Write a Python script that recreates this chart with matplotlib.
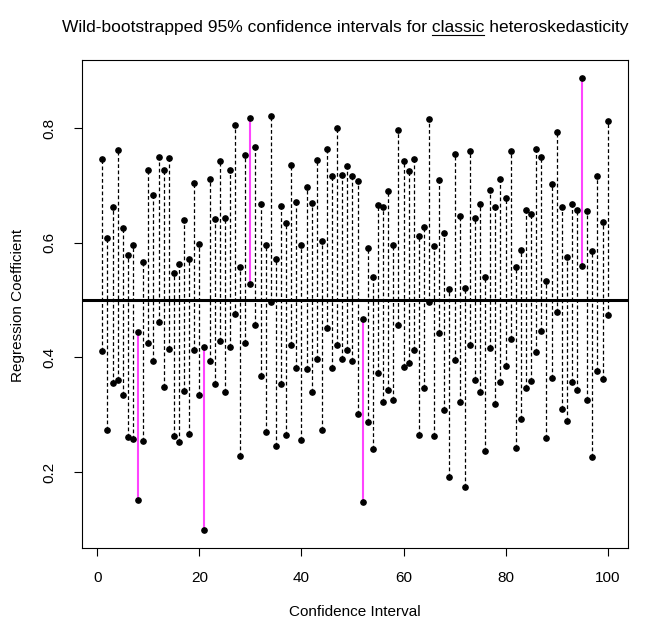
import matplotlib
matplotlib.use('Agg')
import matplotlib.pyplot as plt
from matplotlib.lines import Line2D
import numpy as np

plt.rcParams['font.family'] = ['Liberation Sans', 'DejaVu Sans']

# bootstrap interval bounds, one pair per interval
interval = list(range(1, 101))
lower = [0.411, 0.273, 0.355, 0.361, 0.335, 0.262, 0.257, 0.152, 0.254, 0.425,
         0.393, 0.462, 0.348, 0.414, 0.263, 0.252, 0.342, 0.266, 0.413, 0.334,
         0.099, 0.393, 0.353, 0.428, 0.340, 0.418, 0.475, 0.228, 0.426, 0.528,
         0.457, 0.368, 0.270, 0.497, 0.245, 0.353, 0.264, 0.422, 0.381, 0.256,
         0.379, 0.339, 0.398, 0.274, 0.451, 0.382, 0.422, 0.398, 0.413, 0.393,
         0.302, 0.148, 0.287, 0.240, 0.372, 0.322, 0.344, 0.325, 0.457, 0.384,
         0.391, 0.413, 0.265, 0.347, 0.497, 0.263, 0.443, 0.309, 0.191, 0.395,
         0.323, 0.174, 0.422, 0.360, 0.339, 0.236, 0.416, 0.318, 0.358, 0.385,
         0.432, 0.242, 0.293, 0.346, 0.359, 0.409, 0.446, 0.259, 0.365, 0.480,
         0.310, 0.289, 0.357, 0.343, 0.560, 0.325, 0.227, 0.377, 0.363, 0.474]
upper = [0.746, 0.608, 0.662, 0.762, 0.626, 0.578, 0.597, 0.444, 0.567, 0.728,
         0.684, 0.750, 0.728, 0.748, 0.548, 0.563, 0.639, 0.571, 0.705, 0.598,
         0.418, 0.711, 0.641, 0.742, 0.644, 0.727, 0.806, 0.558, 0.753, 0.818,
         0.767, 0.668, 0.597, 0.822, 0.572, 0.664, 0.635, 0.735, 0.671, 0.597,
         0.698, 0.670, 0.745, 0.604, 0.763, 0.716, 0.801, 0.719, 0.734, 0.716,
         0.708, 0.467, 0.591, 0.541, 0.666, 0.663, 0.691, 0.597, 0.797, 0.743,
         0.726, 0.746, 0.612, 0.628, 0.817, 0.594, 0.710, 0.618, 0.519, 0.755,
         0.647, 0.522, 0.760, 0.643, 0.668, 0.541, 0.693, 0.662, 0.712, 0.678,
         0.760, 0.558, 0.587, 0.658, 0.651, 0.763, 0.749, 0.533, 0.702, 0.793,
         0.663, 0.576, 0.668, 0.657, 0.887, 0.656, 0.586, 0.716, 0.636, 0.812]
true_beta = 0.5
x_ticks = [0, 20, 40, 60, 80, 100]
y_ticks = [0.2, 0.4, 0.6, 0.8]

fig = plt.figure(figsize=(6.52, 6.22), dpi=100)
ax = fig.add_axes([0.126, 0.119, 0.837, 0.784])

for x, lo, hi in zip(interval, lower, upper):
    if lo <= true_beta <= hi:
        ax.plot([x, x], [lo, hi], color='black', lw=0.9, ls=(0, (3, 2)))
    else:
        ax.plot([x, x], [lo, hi], color='#ff44ff', lw=1.5)

ax.plot(interval, lower, 'o', ms=3.8, color='black')
ax.plot(interval, upper, 'o', ms=3.8, color='black')
ax.axhline(true_beta, color='black', lw=2.2)
ax.margins(0.04)

ax.set_xticks(x_ticks)
ax.set_yticks(y_ticks)
ax.set_yticklabels([str(v) for v in y_ticks], rotation=90, va='center')
ax.tick_params(axis='both', length=5.5, width=0.8, labelsize=11)
ax.tick_params(axis='x', pad=11)
ax.tick_params(axis='y', pad=13)
for s in ax.spines.values():
    s.set_linewidth(0.8)

fig.text(18 / 652, 1 - 305 / 622, 'Regression Coefficient', rotation=90,
         ha='center', va='center', fontsize=11)
fig.text(355 / 652, 1 - 612 / 622, 'Confidence Interval',
         ha='center', va='center', fontsize=11)

# title with "classic" underlined
renderer = fig.canvas.get_renderer()
title_size = 12.5
def text_width(s):
    t = fig.text(0, 0, s, fontsize=title_size)
    w = t.get_window_extent(renderer).width
    t.remove()
    return w

title = 'Wild-bootstrapped 95% confidence intervals for classic heteroskedasticity'
cx = 345
base_y = 622 - 32
fig.text(cx / 652, base_y / 622, title, ha='center', va='baseline', fontsize=title_size)
w_full = text_width(title)
w_ab = text_width('Wild-bootstrapped 95% confidence intervals for classic')
w_c = text_width('classic')
left = cx - w_full / 2
u0 = left + w_ab - w_c
u1 = left + w_ab
fig.add_artist(Line2D([u0 / 652, u1 / 652], [(base_y - 2.5) / 622] * 2,
                      transform=fig.transFigure, color='black', lw=0.8))

fig.savefig('out.png', dpi=100)
